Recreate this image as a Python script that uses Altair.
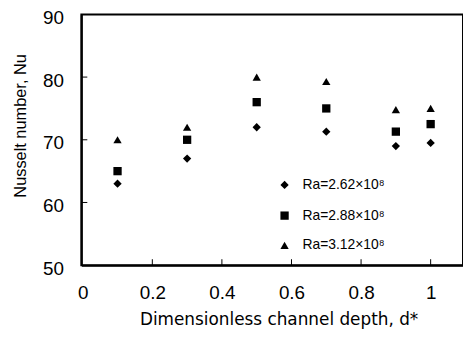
import altair as alt
import pandas as pd

depth = [0.1, 0.3, 0.5, 0.7, 0.9, 1.0]
nu_262 = [63.0, 67.0, 72.0, 71.3, 69.0, 69.5]
nu_288 = [65.0, 70.0, 76.0, 75.0, 71.3, 72.5]
nu_312 = [70.0, 72.0, 80.0, 79.3, 74.8, 75.0]
series = ["Ra=2.62×10⁸", "Ra=2.88×10⁸", "Ra=3.12×10⁸"]
shapes = ["diamond", "square", "triangle-up"]
x_ticks = [0, 0.2, 0.4, 0.6, 0.8, 1.0]
y_ticks = [50, 60, 70, 80, 90]

rows = []
for name, vals in zip(series, [nu_262, nu_288, nu_312]):
    for d, v in zip(depth, vals):
        rows.append({"d": d, "Nu": v, "series": name})
df = pd.DataFrame(rows)

W, H = 385, 253
FONT = "Liberation Sans"

xscale = alt.Scale(domain=[-0.004, 1.093], nice=False, zero=False)
yscale = alt.Scale(domain=[50, 90], nice=False, zero=False)

points = alt.Chart(df).mark_point(filled=True, color="black", opacity=1, size=70).encode(
    x=alt.X("d:Q", scale=xscale,
            axis=alt.Axis(values=x_ticks, format="~g", ticks=False, grid=False,
                          labelFontSize=19, labelPadding=19, labelFont=FONT,
                          labelColor="black", domainColor="black", domainWidth=2,
                          title="Dimensionless channel depth, d*", titleFont="DejaVu Sans",
                          titleFontSize=17, titleFontWeight="normal", titleColor="black",
                          titleX=199, titleY=55, titleBaseline="middle")),
    y=alt.Y("Nu:Q", scale=yscale,
            axis=alt.Axis(values=y_ticks, ticks=False, grid=False,
                          labelFontSize=19, labelPadding=18, labelFont=FONT,
                          labelOffset=3,
                          labelColor="black", domainColor="black", domainWidth=2,
                          title="Nusselt number, Nu", titleFont=FONT,
                          titleFontSize=16.5, titleFontWeight="normal", titleColor="black",
                          titleAngle=-90, titleX=-61, titleY=112, titleBaseline="middle")),
    shape=alt.Shape("series:N", scale=alt.Scale(domain=series, range=shapes),
                    legend=alt.Legend(title=None, orient="none", legendX=198, legendY=165,
                                      labelFont=FONT, labelFontSize=14, labelColor="black",
                                      symbolFillColor="black", symbolStrokeColor="black",
                                      symbolSize=70, rowPadding=15, labelOffset=11)),
)

xt = pd.DataFrame({"v": x_ticks[1:]})
yt = pd.DataFrame({"v": y_ticks[1:-1]})
xtick = alt.Chart(xt).mark_rule(color="black", strokeWidth=1).encode(
    x=alt.X("v:Q", scale=xscale), y=alt.value(H), y2=alt.value(H - 6))
ytick = alt.Chart(yt).mark_rule(color="black", strokeWidth=1).encode(
    y=alt.Y("v:Q", scale=yscale), x=alt.value(0), x2=alt.value(6))

chart = alt.layer(points, xtick, ytick).properties(
    width=W, height=H,
    background="white",
    autosize=alt.AutoSizeParams(type="none"),
    padding={"left": 74, "top": 5, "right": 0, "bottom": 70},
).configure_view(stroke="black", strokeWidth=2)

chart.save("out.html", embed_options={"renderer": "svg", "actions": False})
